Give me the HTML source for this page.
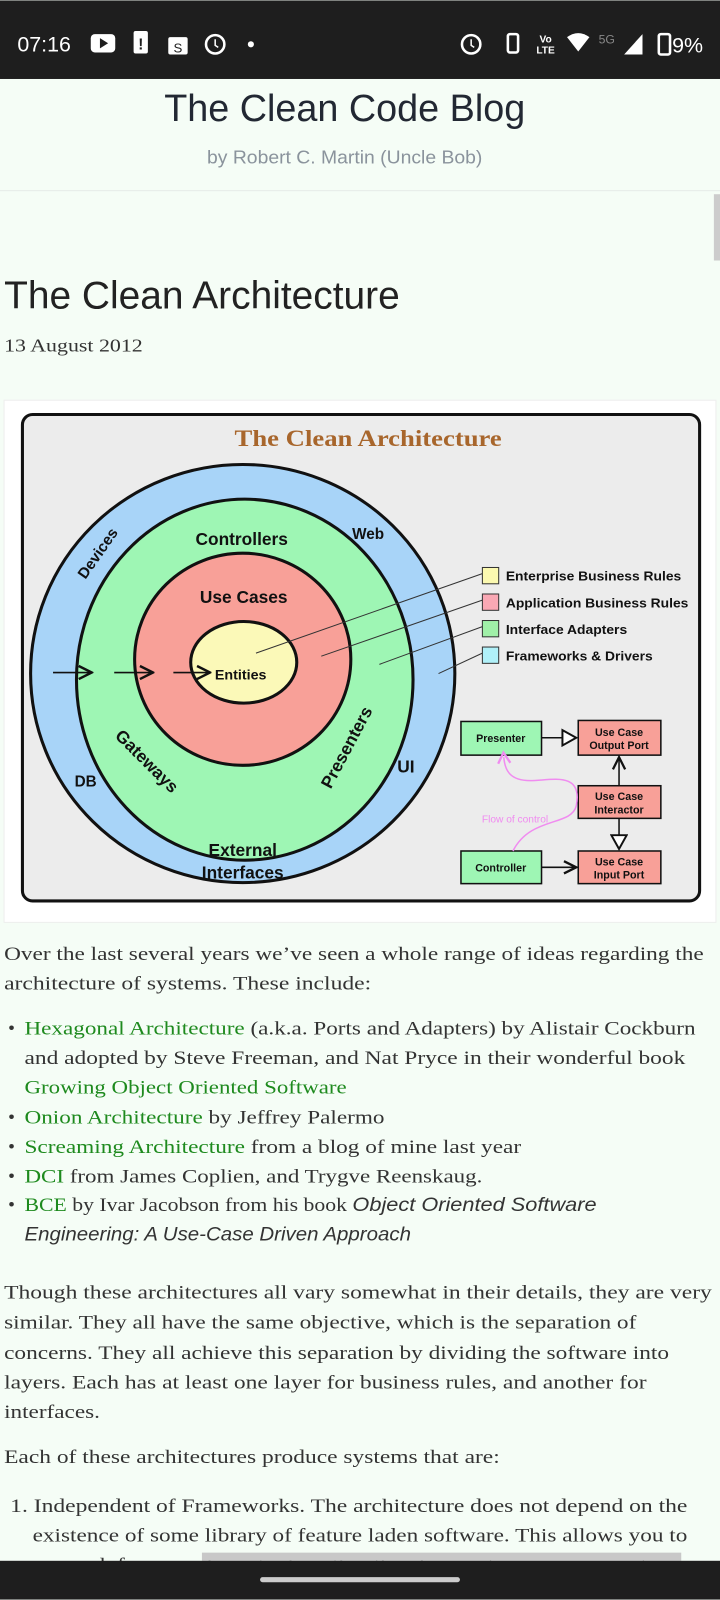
<!DOCTYPE html>
<html><head><meta charset="utf-8"><style>
html,body{margin:0;padding:0;background:#f5fdf6;}
svg{display:block}
.s{font-family:"Liberation Serif",serif;font-size:19px;fill:#333}
.g{fill:#1e8a1e}
.a{font-family:"Liberation Sans",sans-serif;font-weight:bold;fill:#111}
</style></head><body>
<svg width="720" height="1600" viewBox="0 0 706 1568" xmlns="http://www.w3.org/2000/svg">
<defs>
<marker id="ar" markerWidth="10" markerHeight="10" refX="9" refY="5" orient="auto"><path d="M1,1 L9,5 L1,9" fill="none" stroke="#111" stroke-width="1.5"/></marker>
<marker id="tr" markerWidth="12" markerHeight="12" refX="10" refY="6" orient="auto"><path d="M1,1 L10,6 L1,11 Z" fill="#fff" stroke="#111" stroke-width="1.3"/></marker>
<marker id="pk" markerWidth="10" markerHeight="10" refX="5" refY="5" orient="auto"><path d="M1,1 L8,5 L1,9" fill="none" stroke="#f08cf0" stroke-width="1.5"/></marker>
</defs>
<rect x="0" y="0" width="706" height="1568" fill="#f5fdf6"/>
<!-- status bar -->
<rect x="0" y="0" width="706" height="77" fill="#1e1e1e"/>
<text x="17" y="50" font-family="Liberation Sans,sans-serif" font-size="21" fill="#fff">07:16</text>
<rect x="89" y="33" width="24" height="18" rx="4" fill="#fff"/><path d="M98,37 L106,42 L98,47Z" fill="#1e1e1e"/>
<rect x="131" y="30" width="14" height="22" rx="2" fill="#fff"/><text x="138" y="48" font-size="15" font-family="Liberation Sans" font-weight="bold" fill="#1e1e1e" text-anchor="middle">!</text>
<rect x="165" y="36" width="19" height="17" rx="2" fill="#fff"/><text x="174.5" y="51" font-size="13" font-family="Liberation Sans" fill="#1e1e1e" text-anchor="middle">S</text>
<circle cx="211" cy="43" r="9" fill="none" stroke="#fff" stroke-width="2.5"/><path d="M211,38 L211,44 L214,46" stroke="#fff" stroke-width="1.5" fill="none"/>
<circle cx="246" cy="43" r="3" fill="#fff"/>
<circle cx="462" cy="43" r="9" fill="none" stroke="#fff" stroke-width="2.5"/><path d="M462,38 L462,44 L465,46" stroke="#fff" stroke-width="1.5" fill="none"/>
<rect x="498" y="33" width="10" height="18" rx="2" fill="none" stroke="#fff" stroke-width="2.5"/>
<text x="535" y="41" font-size="10" font-family="Liberation Sans" font-weight="bold" fill="#fff" text-anchor="middle">Vo</text><text x="535" y="52" font-size="10" font-family="Liberation Sans" font-weight="bold" fill="#fff" text-anchor="middle">LTE</text>
<path d="M556,36 Q567,28 578,36 L567,50Z" fill="#fff"/>
<text x="587" y="42" font-size="12" font-family="Liberation Sans" fill="#888">5G</text>
<path d="M612,53 L630,33 L630,53Z" fill="#fff"/>
<rect x="646" y="33" width="11" height="20" rx="2" fill="none" stroke="#fff" stroke-width="2.5"/>
<text x="659" y="51" font-family="Liberation Sans,sans-serif" font-size="21" fill="#fff">9%</text>
<!-- header -->
<text x="338" y="118" text-anchor="middle" font-family="Liberation Sans,sans-serif" font-size="37" fill="#222833" textLength="354" lengthAdjust="spacingAndGlyphs">The Clean Code Blog</text>
<text x="338" y="160" text-anchor="middle" font-family="Liberation Sans,sans-serif" font-size="18" fill="#8a939c" textLength="270" lengthAdjust="spacingAndGlyphs">by Robert C. Martin (Uncle Bob)</text>
<rect x="0" y="186" width="706" height="1" fill="#e6ece8"/>
<rect x="700" y="190" width="6" height="65" fill="#ccc"/>
<text x="4" y="302" font-family="Liberation Sans,sans-serif" font-size="38" fill="#222" textLength="388" lengthAdjust="spacingAndGlyphs">The Clean Architecture</text>
<text x="4" y="344" class="s" style="font-size:18px" textLength="136" lengthAdjust="spacingAndGlyphs">13 August 2012</text>
<!-- diagram -->
<rect x="4" y="392" width="698" height="512" fill="#fff" stroke="#eee"/>
<rect x="22" y="406" width="664" height="477" rx="10" fill="#ececec" stroke="#111" stroke-width="3"/>
<text x="361" y="437" text-anchor="middle" font-family="Liberation Serif,serif" font-weight="bold" font-size="23" fill="#a8662c" textLength="262" lengthAdjust="spacingAndGlyphs">The Clean Architecture</text>
<ellipse cx="238" cy="660" rx="208" ry="205" fill="#a8d4f8" stroke="#111" stroke-width="3"/>
<ellipse cx="240" cy="666" rx="165" ry="177" fill="#9ef6b4" stroke="#111" stroke-width="3"/>
<ellipse cx="238" cy="646" rx="106" ry="104" fill="#f8a098" stroke="#111" stroke-width="3"/>
<ellipse cx="239" cy="649" rx="52" ry="40" fill="#fbf9b8" stroke="#111" stroke-width="3"/>
<g stroke="#333" stroke-width="1">
<line x1="473" y1="562" x2="251" y2="640"/><line x1="473" y1="588" x2="315" y2="643"/><line x1="473" y1="614" x2="372" y2="651"/><line x1="473" y1="640" x2="430" y2="660"/>
</g>
<g stroke="#111" stroke-width="1.6" marker-end="url(#ar)"><line x1="52" y1="659" x2="90" y2="659"/><line x1="112" y1="659" x2="150" y2="659"/><line x1="170" y1="659" x2="206" y2="659"/></g>
<g class="a" font-size="17">
<text x="237" y="534" text-anchor="middle">Controllers</text>
<text x="361" y="528" text-anchor="middle" font-size="15">Web</text>
<text x="239" y="591" text-anchor="middle">Use Cases</text>
<text x="236" y="666" text-anchor="middle" font-size="14">Entities</text>
<text x="398" y="757" text-anchor="middle">UI</text>
<text x="84" y="771" text-anchor="middle" font-size="15">DB</text>
<text x="238" y="839" text-anchor="middle">External</text>
<text x="238" y="861" text-anchor="middle">Interfaces</text>
<text transform="translate(100,545) rotate(-55)" text-anchor="middle" font-size="15">Devices</text>
<text transform="translate(140,750) rotate(45)" text-anchor="middle">Gateways</text>
<text transform="translate(345,735) rotate(-62)" text-anchor="middle">Presenters</text>
</g>
<rect x="473" y="556" width="16" height="16" fill="#fbf9b0" stroke="#333"/>
<rect x="473" y="582" width="16" height="16" fill="#f9a8b4" stroke="#333"/>
<rect x="473" y="608" width="16" height="16" fill="#a0f0a8" stroke="#333"/>
<rect x="473" y="634" width="16" height="16" fill="#b0f0f8" stroke="#333"/>
<g class="a" font-size="13">
<text x="496" y="569" textLength="172" lengthAdjust="spacingAndGlyphs">Enterprise Business Rules</text>
<text x="496" y="595" textLength="179" lengthAdjust="spacingAndGlyphs">Application Business Rules</text>
<text x="496" y="621" textLength="119" lengthAdjust="spacingAndGlyphs">Interface Adapters</text>
<text x="496" y="647" textLength="144" lengthAdjust="spacingAndGlyphs">Frameworks &amp; Drivers</text>
</g>
<g stroke="#111" stroke-width="1.5">
<rect x="452" y="707" width="79" height="33" fill="#9ef6b4"/>
<rect x="567" y="706" width="81" height="34" fill="#f8a098"/>
<rect x="567" y="770" width="81" height="32" fill="#f8a098"/>
<rect x="567" y="834" width="81" height="32" fill="#f8a098"/>
<rect x="452" y="834" width="79" height="32" fill="#9ef6b4"/>
<line x1="531" y1="723" x2="565" y2="723" marker-end="url(#tr)"/>
<line x1="607" y1="770" x2="607" y2="742" marker-end="url(#ar)"/>
<line x1="607" y1="802" x2="607" y2="832" marker-end="url(#tr)"/>
<line x1="531" y1="850" x2="565" y2="850" marker-end="url(#ar)"/>
</g>
<path d="M503,834 C520,800 560,810 565,790 C572,755 540,765 520,765 C500,765 495,755 494,742" fill="none" stroke="#f08cf0" stroke-width="1.5" marker-end="url(#pk)"/>
<text x="505" y="806" text-anchor="middle" font-family="Liberation Sans,sans-serif" font-size="10" fill="#f08cf0">Flow of control</text>
<g class="a" font-size="10.5" text-anchor="middle">
<text x="491" y="727">Presenter</text>
<text x="607" y="721">Use Case</text><text x="607" y="734">Output Port</text>
<text x="607" y="784">Use Case</text><text x="607" y="797">Interactor</text>
<text x="607" y="848">Use Case</text><text x="607" y="861">Input Port</text>
<text x="491" y="854">Controller</text>
</g>
<!-- body text -->
<g class="s">
<text x="4" y="941" textLength="686" lengthAdjust="spacingAndGlyphs">Over the last several years we’ve seen a whole range of ideas regarding the</text>
<text x="4" y="970" textLength="360" lengthAdjust="spacingAndGlyphs">architecture of systems. These include:</text>
<text x="8" y="1014">•</text><text x="24" y="1014" textLength="658" lengthAdjust="spacingAndGlyphs"><tspan class="g">Hexagonal Architecture</tspan> (a.k.a. Ports and Adapters) by Alistair Cockburn</text>
<text x="24" y="1043" textLength="648" lengthAdjust="spacingAndGlyphs">and adopted by Steve Freeman, and Nat Pryce in their wonderful book</text>
<text x="24" y="1072" class="s g" textLength="316" lengthAdjust="spacingAndGlyphs">Growing Object Oriented Software</text>
<text x="8" y="1101">•</text><text x="24" y="1101" textLength="353" lengthAdjust="spacingAndGlyphs"><tspan class="g">Onion Architecture</tspan> by Jeffrey Palermo</text>
<text x="8" y="1130">•</text><text x="24" y="1130" textLength="487" lengthAdjust="spacingAndGlyphs"><tspan class="g">Screaming Architecture</tspan> from a blog of mine last year</text>
<text x="8" y="1159">•</text><text x="24" y="1159" textLength="449" lengthAdjust="spacingAndGlyphs"><tspan class="g">DCI</tspan> from James Coplien, and Trygve Reenskaug.</text>
<text x="8" y="1187">•</text><text x="24" y="1187" textLength="561" lengthAdjust="spacingAndGlyphs"><tspan class="g">BCE</tspan> by Ivar Jacobson from his book <tspan font-family="Liberation Sans,sans-serif" font-style="italic">Object Oriented Software</tspan></text>
<text x="24" y="1216" font-family="Liberation Sans,sans-serif" font-style="italic" textLength="379" lengthAdjust="spacingAndGlyphs">Engineering: A Use-Case Driven Approach</text>
<text x="4" y="1273" textLength="694" lengthAdjust="spacingAndGlyphs">Though these architectures all vary somewhat in their details, they are very</text>
<text x="4" y="1302" textLength="620" lengthAdjust="spacingAndGlyphs">similar. They all have the same objective, which is the separation of</text>
<text x="4" y="1332" textLength="652" lengthAdjust="spacingAndGlyphs">concerns. They all achieve this separation by dividing the software into</text>
<text x="4" y="1361" textLength="630" lengthAdjust="spacingAndGlyphs">layers. Each has at least one layer for business rules, and another for</text>
<text x="4" y="1390" textLength="94" lengthAdjust="spacingAndGlyphs">interfaces.</text>
<text x="4" y="1434" textLength="486" lengthAdjust="spacingAndGlyphs">Each of these architectures produce systems that are:</text>
<text x="10" y="1482" textLength="664" lengthAdjust="spacingAndGlyphs">1. Independent of Frameworks. The architecture does not depend on the</text>
<text x="32" y="1511" textLength="642" lengthAdjust="spacingAndGlyphs">existence of some library of feature laden software. This allows you to</text>
<text x="32" y="1540" textLength="630" lengthAdjust="spacingAndGlyphs">use such frameworks as tools, rather than having to cram your system</text>
</g>
<rect x="198" y="1522" width="470" height="8" fill="#c8c8c8"/>
<rect x="0" y="1530" width="706" height="38" fill="#1e1e1e"/>
<rect x="255" y="1546" width="196" height="5" rx="2.5" fill="#ccc"/>
</svg>
</body></html>
